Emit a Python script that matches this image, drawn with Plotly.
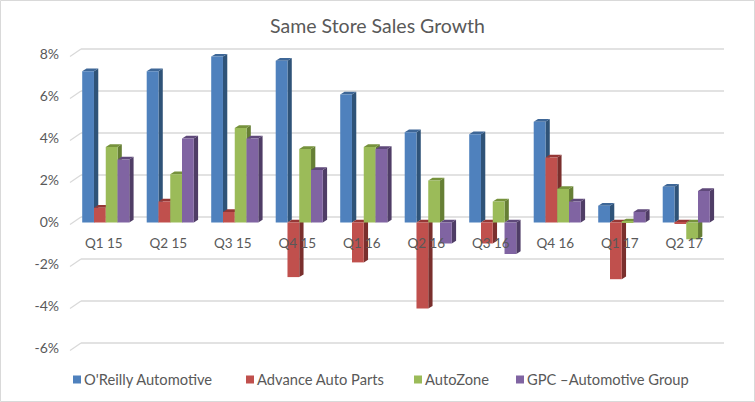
import plotly.graph_objects as go

quarters = ["Q1 15","Q2 15","Q3 15","Q4 15","Q1 16","Q2 16","Q3 16","Q4 16","Q1 17","Q2 17"]
oreilly = [7.2,7.2,7.9,7.7,6.1,4.3,4.2,4.8,0.8,1.7]
advance = [0.7,1.0,0.5,-2.6,-1.9,-4.1,-1.0,3.1,-2.7,-0.05]
autozone = [3.6,2.3,4.5,3.5,3.6,2.0,1.0,1.6,0.05,-0.8]
gpc = [3.0,4.0,4.0,2.5,3.5,-1.0,-1.5,1.0,0.5,1.5]
y_ticks = [-6,-4,-2,0,2,4,6,8]

series = [
    ("O'Reilly Automotive", oreilly, "#4F81BD", "#2F5378", "#3E6797", 84),
    ("Advance Auto Parts", advance, "#C0504D", "#7A2F2D", "#953735", 257),
    ("AutoZone", autozone, "#9BBB59", "#667F35", "#76923C", 425),
    ("GPC \u2013Automotive Group", gpc, "#8064A2", "#4F3D66", "#5F497A", 527),
]

W, H = 755, 402
L, R, T, B = 60, 25, 40, 0
PW, PH = W - L - R, H - T - B
PX_X, PX_Y = 64.5, 21.0
Y0_PX = 222.5
x_range = [-0.5 - 13.5 / PX_X, 9.5 + 11.5 / PX_X]
y_range = [-(H - B - Y0_PX) / PX_Y, (Y0_PX - T) / PX_Y]
GAP = 0.27
BW = (1 - GAP) / 4
DX, DY = 4.3 / PX_X, 2.7 / PX_Y

fig = go.Figure()
shapes = []

for v in y_ticks:
    yb = v + 5.5 / PX_Y
    shapes.append(dict(type="line", layer="below", xref="x", yref="y",
                       x0=-0.5 + 7.5 / PX_X, x1=9.5 + 5.5 / PX_X, y0=yb, y1=yb,
                       line=dict(color="#D9D9D9", width=1.3)))
    shapes.append(dict(type="line", layer="below", xref="x", yref="y",
                       x0=-0.5 - 3.5 / PX_X, x1=-0.5 + 7.5 / PX_X, y0=v - 2 / PX_Y, y1=yb,
                       line=dict(color="#D9D9D9", width=1.3)))

for s_i, (name, vals, col, side, top, lx) in enumerate(series):
    for i, v in enumerate(vals):
        x0 = i - 2 * BW + s_i * BW
        x1 = x0 + BW
        hi, lo = max(v, 0), min(v, 0)
        shapes.append(dict(type="path", layer="below", xref="x", yref="y", line_width=0, fillcolor=side,
                           path=f"M{x1},{lo} L{x1+DX},{lo+DY} L{x1+DX},{hi+DY} L{x1},{hi} Z"))
        shapes.append(dict(type="path", layer="below", xref="x", yref="y", line_width=0, fillcolor=top,
                           path=f"M{x0},{hi} L{x0+DX},{hi+DY} L{x1+DX},{hi+DY} L{x1},{hi} Z"))

x_pos = list(range(len(quarters)))
for name, vals, col, side, top, lx in series:
    fig.add_trace(go.Bar(x=x_pos, y=vals, name=name, marker=dict(color=col, line_width=0), showlegend=False))

legend_layout = {}
for k, (name, vals, col, side, top, lx) in enumerate(series):
    key = "legend" if k == 0 else f"legend{k+1}"
    fig.add_trace(go.Scatter(x=[None], y=[None], mode="markers", name=name, showlegend=True, legend=key,
                             marker=dict(symbol="square", size=8, color=col)))
    legend_layout[key] = dict(
        x=(lx - 40 - L) / PW, xanchor="left",
        y=(H - B - 380) / PH, yanchor="middle",
        orientation="h", bgcolor="rgba(0,0,0,0)", itemwidth=30,
        font=dict(family="Lato", size=14.7, color="#595959"),
    )

shapes.append(dict(type="rect", xref="paper", yref="paper", layer="below",
                   x0=(0.5 - L) / PW, x1=(W - 0.5 - L) / PW,
                   y0=-(B - 0.5) / PH, y1=1 + (T - 0.5) / PH,
                   line=dict(color="#D9D9D9", width=1), fillcolor="rgba(0,0,0,0)"))

fig.update_layout(
    width=W, height=H, margin=dict(l=L, r=R, t=T, b=B),
    paper_bgcolor="white", plot_bgcolor="white",
    barmode="group", bargap=GAP, bargroupgap=0,
    font=dict(family="Lato", size=14, color="#595959"),
    title=dict(text="Same Store Sales Growth", x=0.5, xanchor="center", y=1 - 26 / H, yanchor="middle",
               font=dict(family="Lato", size=19.5, color="#595959")),
    shapes=shapes,
    xaxis=dict(range=x_range, tickmode="array", tickvals=[p - 2 / PX_X for p in x_pos], ticktext=quarters,
               anchor="free", position=(H - B - Y0_PX) / PH, showgrid=False, zeroline=False,
               showline=False, ticks="", ticklabelstandoff=11, tickfont=dict(family="Lato", size=13.5, color="#595959")),
    yaxis=dict(range=y_range, tickmode="array", tickvals=y_ticks, ticktext=[f"{v}%" for v in y_ticks],
               showgrid=False, zeroline=False, showline=False, ticks="",
               tickfont=dict(family="Lato", size=14, color="#595959")),
    **legend_layout,
)
post = """
document.body.style.margin='0';document.body.style.overflow='hidden';
document.querySelectorAll('.legendsymbols').forEach(function(g){g.setAttribute('transform','translate(13,0)');});
"""
fig.write_html("out.html", post_script=post, config={"displayModeBar": False})
